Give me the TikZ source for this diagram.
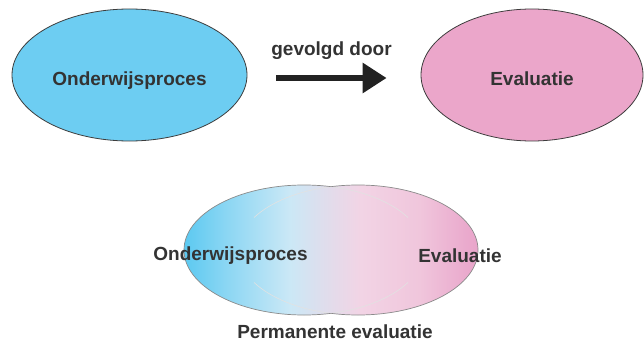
\documentclass[tikz,border=0pt]{standalone}
\usepackage{fontspec}
\setmainfont{Liberation Sans}
\usetikzlibrary{arrows.meta, positioning, shapes.geometric}
\definecolor{lesBlue}{HTML}{6DCDF2}
\definecolor{lesPink}{HTML}{EBA6CA}
\definecolor{lesText}{HTML}{333333}
\definecolor{lesLine}{HTML}{3C3C3C}
\definecolor{lesGrey}{HTML}{8A8A8A}
\definecolor{lesArrow}{HTML}{222222}
\definecolor{mixA}{HTML}{5CC9F1}
\definecolor{mixB}{HTML}{8AD6F3}
\definecolor{mixC}{HTML}{CBE8F6}
\definecolor{mixD}{HTML}{E0DDEC}
\definecolor{mixE}{HTML}{F2D4E5}
\definecolor{mixF}{HTML}{F0C6DC}
\definecolor{mixG}{HTML}{EAAACD}
\definecolor{mixH}{HTML}{E9A5CA}
\pgfdeclarehorizontalshading{permanent}{100bp}{
  color(0bp)=(mixA); color(25bp)=(mixA); color(32bp)=(mixB); color(43bp)=(mixC);
  color(49bp)=(mixD); color(55bp)=(mixE); color(65bp)=(mixF); color(73bp)=(mixG);
  color(75bp)=(mixH); color(100bp)=(mixH)}

\tikzset{
  fase/.style={ellipse, draw=lesLine, line width=0.8pt, minimum height=132pt,
               inner sep=0pt, text height=20pt, text depth=0pt},
  tekst/.style={anchor=base, inner sep=0pt},
  volgt/.style={-{Triangle[length=24pt, width=29pt]}, line width=6pt, draw=lesArrow},
  rand/.style={draw=lesGrey, line width=0.7pt},
  schim/.style={draw=lesGrey!25, line width=0.6pt}
}

\begin{document}
\begin{tikzpicture}[x=1pt, y=1pt, font=\fontsize{19}{21}\selectfont\bfseries, text=lesText]
  \useasboundingbox (0,0) rectangle (644,346);

  \node[fase, fill=lesBlue, minimum width=235pt] (proces) at (129.5,271) {Onderwijsproces};
  \node[fase, fill=lesPink, minimum width=222pt] (evaluatie) at (532,271) {Evaluatie};
  \draw[volgt] ([shift={(29pt,-3pt)}]proces.east) -- node[above=12pt] (volgorde) {gevolgd door}
    ([shift={(-34pt,-3pt)}]evaluatie.west);

  % permanente evaluatie: twee overlappende ellipsen
  \begin{scope}
    \clip (304,96) ellipse [x radius=120, y radius=65]
          (358,96) ellipse [x radius=120, y radius=65];
    \shade[shading=permanent] (184,31) rectangle (478,161);
  \end{scope}
  \draw[schim] (358,96) +(103:120 and 65) arc [start angle=103, end angle=150, x radius=120, y radius=65];
  \draw[schim] (358,96) +(210:120 and 65) arc [start angle=210, end angle=257, x radius=120, y radius=65];
  \draw[schim] (304,96) +(77:120 and 65) arc [start angle=77, end angle=30, x radius=120, y radius=65];
  \draw[schim] (304,96) +(-30:120 and 65) arc [start angle=-30, end angle=-77, x radius=120, y radius=65];
  \begin{scope}[even odd rule]
    \clip (0,0) rectangle (644,346) (358,96) ellipse [x radius=120, y radius=65];
    \draw[rand] (304,96) ellipse [x radius=120, y radius=65];
  \end{scope}
  \begin{scope}[even odd rule]
    \clip (0,0) rectangle (644,346) (304,96) ellipse [x radius=120, y radius=65];
    \draw[rand] (358,96) ellipse [x radius=120, y radius=65];
  \end{scope}

  \node[tekst] (onderwijs) at (230.5,86) {Onderwijsproces};
  \node[tekst] (toets) at (460,84) {Evaluatie};
  \node[tekst] (permanent) at (335,8) {Permanente evaluatie};
\end{tikzpicture}
\end{document}
